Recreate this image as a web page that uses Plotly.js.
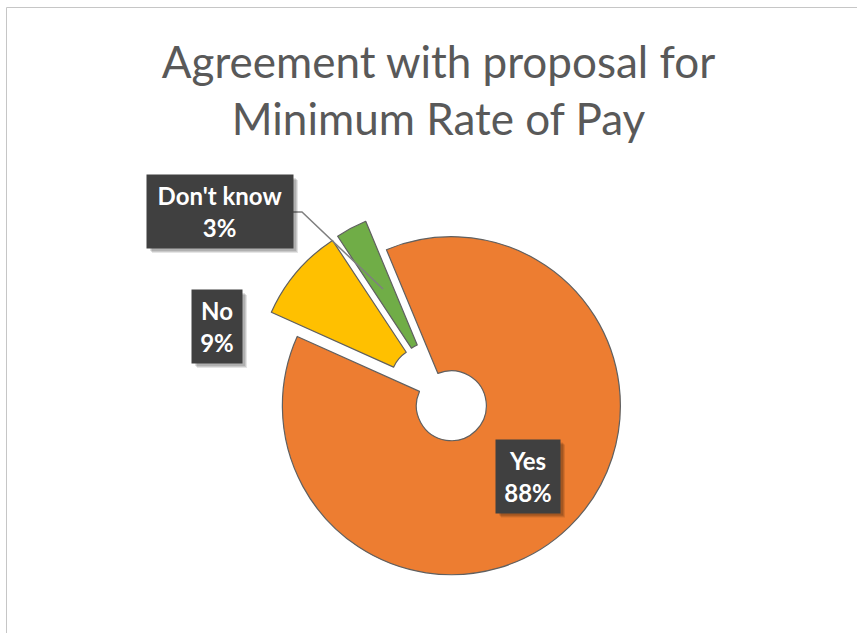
<!DOCTYPE html>
<html>
<head>
<meta charset="utf-8">
<script src="https://cdn.plot.ly/plotly-3.0.1.min.js"></script>
<style>html,body{margin:0;padding:0;background:#fff;}#chart{width:857px;height:633px;}</style>
</head>
<body>
<div id="chart"></div>
<script>
// ---- data ----
const categories = ["Yes", "No", "Don't know"];
const values = [88, 9, 3];
const percentLabels = ["88%", "9%", "3%"];
const colors = ["#ED7D31", "#FFC000", "#70AD47"];
const chartTitle = "Agreement with proposal for<br>Minimum Rate of Pay";

const W = 857, H = 633;
const px = x => x / W;
const py = y => 1 - y / H;

// label boxes (center x, center y, width, height) in pixels
const boxes = {
  "Yes": [528, 476, 64, 73],
  "No": [217, 326.5, 50, 73],
  "Don't know": [220, 211.5, 146, 73]
};

const annotations = [];
const shapes = [
  {type: 'rect', xref: 'paper', yref: 'paper', x0: px(6.5), x1: 1.05, y0: -0.05, y1: py(7.5),
   line: {color: '#c6c6c6', width: 1}, fillcolor: 'rgba(0,0,0,0)', layer: 'below'},
  {type: 'path', xref: 'paper', yref: 'paper',
   path: 'M' + px(293) + ',' + py(212) + ' L' + px(302) + ',' + py(212) + ' L' + px(383) + ',' + py(289),
   line: {color: '#7f7f7f', width: 1.5}}
];
categories.forEach((c, i) => {
  const b = boxes[c];
  // soft shadow
  [[5, 0.10], [4, 0.12], [3, 0.12]].forEach(s => {
    shapes.push({
      type: 'rect', xref: 'paper', yref: 'paper', layer: 'above',
      x0: px(b[0] - b[2] / 2 + s[0]), x1: px(b[0] + b[2] / 2 + s[0]),
      y0: py(b[1] + b[3] / 2 + s[0]), y1: py(b[1] - b[3] / 2 + s[0]),
      line: {width: 0}, fillcolor: 'rgba(0,0,0,' + s[1] + ')'
    });
  });
  annotations.push({
    x: px(b[0]), y: py(b[1]), xref: 'paper', yref: 'paper',
    xanchor: 'center', yanchor: 'middle', showarrow: false,
    text: '<b>' + c + '<br>' + percentLabels[i] + '</b>', width: b[2], height: b[3], borderpad: 0,
    bgcolor: '#404040', align: 'center',
    font: {family: 'Lato', size: 24, color: '#ffffff'}
  });
});

const cx = 439, cy = 393, R = 169, pullFrac = 0.105;
const half = R * (1 + pullFrac);

const trace = {
  type: 'pie',
  labels: categories,
  values: values,
  sort: false,
  direction: 'clockwise',
  rotation: -22.6,
  hole: 0.207,
  pull: pullFrac,
  textinfo: 'none',
  hoverinfo: 'label+percent',
  marker: {colors: colors, line: {color: '#606060', width: 1.2}},
  domain: {x: [px(cx - half), px(cx + half)], y: [py(cy + half), py(cy - half)]},
  showlegend: false
};

const layout = {
  width: W, height: H,
  margin: {l: 0, r: 0, t: 0, b: 0},
  paper_bgcolor: '#ffffff',
  showlegend: false,
  title: {
    text: chartTitle,
    x: px(438.5), xanchor: 'center', xref: 'container',
    y: py(78), yanchor: 'top', yref: 'container',
    font: {family: 'Lato', size: 44, color: '#595959'}
  },
  annotations: annotations,
  shapes: shapes
};

Plotly.newPlot('chart', [trace], layout, {displayModeBar: false, staticPlot: true});
</script>
</body>
</html>
